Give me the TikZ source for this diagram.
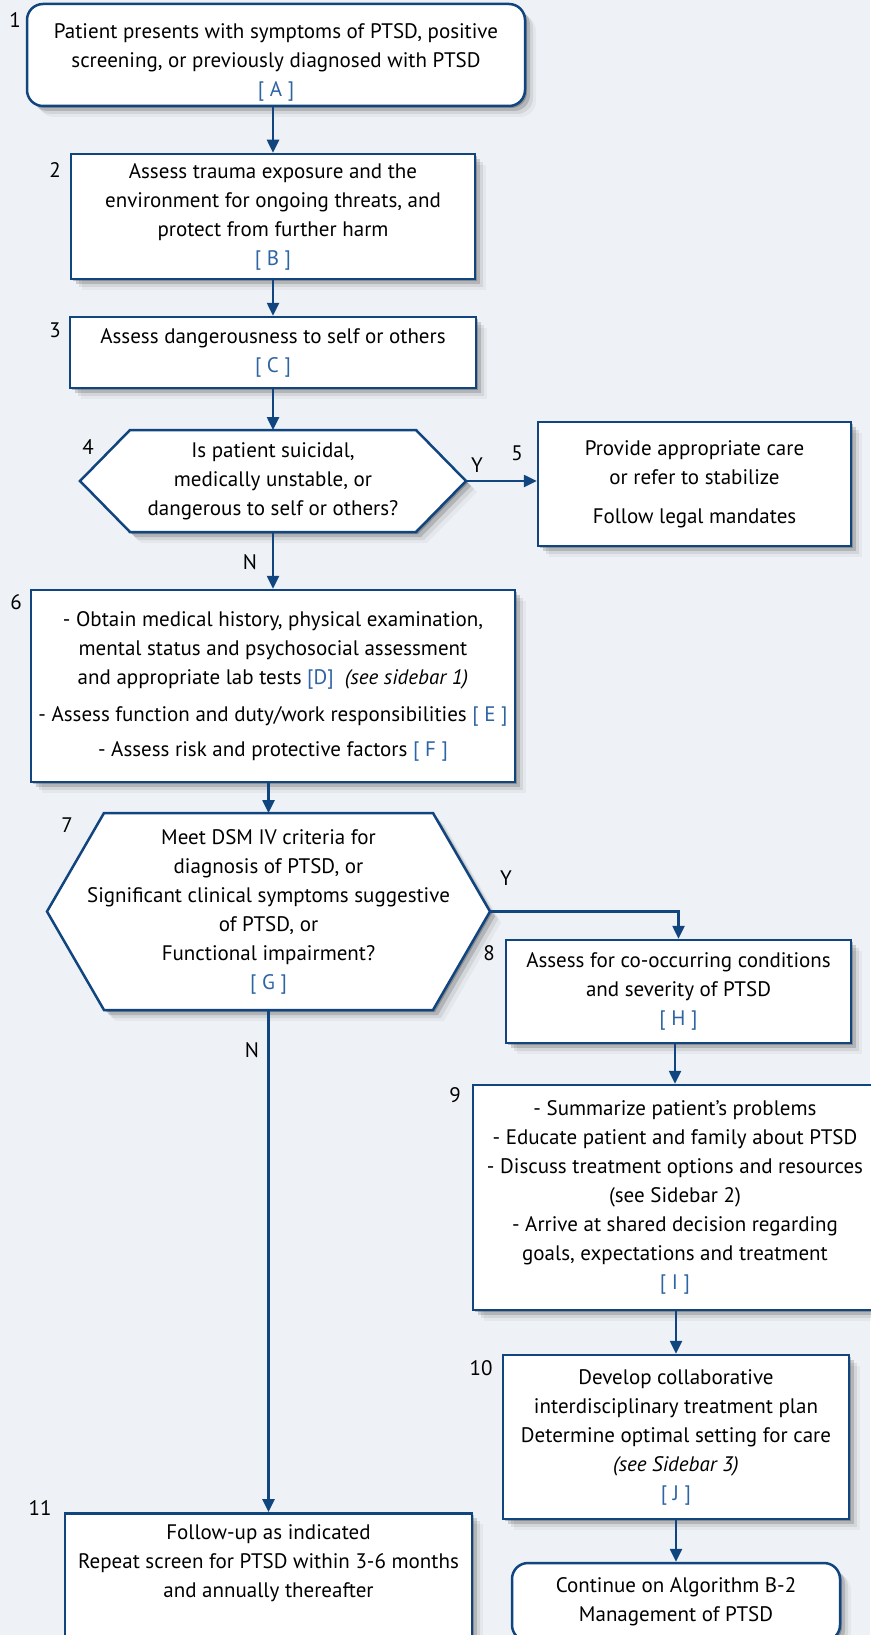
\documentclass[tikz,border=0pt]{standalone}
\usepackage{fontspec}
\setmainfont{PT Sans}
\usetikzlibrary{arrows.meta,shadows,calc}
\pgfdeclarelayer{back}
\pgfdeclarelayer{mid}
\pgfsetlayers{back,mid,main}
\definecolor{bgc}{HTML}{EEF2F6}
\definecolor{navy}{HTML}{11457F}
\definecolor{refblue}{HTML}{2D64A2}
\newcommand{\rfl}[1]{\textcolor{refblue}{[ #1 ]}}
% #1 node, #2 half inner width, #3 half height, #4 inset
\newcommand{\hexpath}[4]{%
  \draw[hexline] ($(#1)+(-#2,-#3)$) -- ($(#1)+(#2,-#3)$) -- ($(#1)+(#2+#4,0)$)
    -- ($(#1)+(#2,#3)$) -- ($(#1)+(-#2,#3)$) -- ($(#1)+(-#2-#4,0)$) -- cycle;}
\begin{document}
\begin{tikzpicture}[x=1pt,y=-1pt,
  every node/.style={font=\fontsize{21}{29}\selectfont, text=black},
  shad/.style={
    drop shadow={shadow xshift=2pt,shadow yshift=-2pt,fill=black,opacity=0.22},
    drop shadow={shadow xshift=5pt,shadow yshift=-5pt,fill=black,opacity=0.15},
    drop shadow={shadow xshift=8pt,shadow yshift=-8pt,fill=black,opacity=0.08},
    drop shadow={shadow xshift=11pt,shadow yshift=-11pt,fill=black,opacity=0.04}},
  box/.style={draw=navy, line width=2.5pt, fill=white, shad, align=center, inner sep=0pt},
  rbox/.style={box, rounded corners=16pt},
  hexin/.style={align=center, inner sep=0pt},
  hexline/.style={draw=navy, line width=2.5pt, fill=white, shad, line join=miter},
  conn/.style={draw=navy, line width=2.5pt, -{Triangle[length=13pt,width=12pt]}},
  num/.style={font=\fontsize{21}{24}\selectfont},
]
\begin{pgfonlayer}{back}
\fill[bgc] (0,0) rectangle (870,1635);
\end{pgfonlayer}
\useasboundingbox (0,0) rectangle (870,1635);

\node[rbox, minimum width=498, minimum height=102] (b1) at (276,55)
  {\rule{0pt}{30pt}Patient presents with symptoms of PTSD, positive\\screening, or previously diagnosed with PTSD\\\rfl{A}};
\node[box, minimum width=404, minimum height=125] (b2) at (273,216.5)
  {Assess trauma exposure and the\\environment for ongoing threats, and\\protect from further harm\\\rfl{B}};
\node[box, minimum width=406, minimum height=71] (b3) at (273,352.5)
  {Assess dangerousness to self or others\\\rfl{C}};
\node[hexin] (h4) at (273,481)
  {Is patient suicidal,\\medically unstable, or\\dangerous to self or others?};
\begin{pgfonlayer}{mid}\hexpath{h4}{143}{51}{50}\end{pgfonlayer}
\coordinate (h4t) at ($(h4)+(0,-51)$);
\coordinate (h4b) at ($(h4)+(0,51)$);
\coordinate (h4r) at ($(h4)+(193,0)$);
\node[box, minimum width=313, minimum height=124] (b5) at (694.5,484)
  {Provide appropriate care\\or refer to stabilize\\[10pt]Follow legal mandates};
\node[box, minimum width=484, minimum height=192] (b6) at (273,686)
  {- Obtain medical history, physical examination,\\mental status and psychosocial assessment\\and appropriate lab tests \textcolor{refblue}{[D]}\ \ \textit{(see sidebar 1)}\\[8pt]- Assess function and duty/work responsibilities \rfl{E}\\[6pt]- Assess risk and protective factors \rfl{F}};
\node[hexin] (h7) at (268.5,911.5)
  {Meet DSM IV criteria for\\diagnosis of PTSD, or\\Significant clinical symptoms suggestive\\of PTSD, or\\Functional impairment?\\\rfl{G}};
\begin{pgfonlayer}{mid}\hexpath{h7}{164.5}{98.5}{57}\end{pgfonlayer}
\coordinate (h7t) at ($(h7)+(0,-98.5)$);
\coordinate (h7b) at ($(h7)+(0,98.5)$);
\coordinate (h7r) at ($(h7)+(221.5,0)$);
\node[box, minimum width=345, minimum height=103] (b8) at (678.5,991.5)
  {Assess for co-occurring conditions\\and severity of PTSD\\\rfl{H}};
\node[box, minimum width=404, minimum height=225] (b9) at (675,1197.5)
  {- Summarize patient’s problems\\- Educate patient and family about PTSD\\- Discuss treatment options and resources\\(see Sidebar 2)\\- Arrive at shared decision regarding\\goals, expectations and treatment\\\rfl{I}};
\node[box, minimum width=346, minimum height=164] (b10) at (676,1437)
  {Develop collaborative\\interdisciplinary treatment plan\\Determine optimal setting for care\\\textit{(see Sidebar 3)}\\\rfl{J}};
\node[box, anchor=north, minimum width=407, inner ysep=11pt, text depth=90pt] (b11) at (268.5,1512)
  {Follow-up as indicated\\Repeat screen for PTSD within 3-6 months\\and annually thereafter};
\node[rbox, minimum width=328, minimum height=78] (fin) at (676,1602)
  {Continue on Algorithm B-2\\Management of PTSD};

% step numbers
\node[num] (n1) at (15,20) {1};
\node[num] (n2) at (55,170) {2};
\node[num] (n3) at (55,330) {3};
\node[num] (n4) at (88,447) {4};
\node[num] (n5) at (517,453) {5};
\node[num] (n6) at (16,602) {6};
\node[num] (n7) at (67,825) {7};
\node[num] (n8) at (489,953) {8};
\node[num] (n9) at (455,1095) {9};
\node[num] (n10) at (481,1368) {10};
\node[num] (n11) at (40,1508) {11};

% connectors
\draw[conn] (b1.south -| b2.north) -- (b2.north);
\draw[conn] (b2.south) -- (b3.north);
\draw[conn] (b3.south) -- (h4t);
\draw[conn] (h4r) -- (h4r -| b5.west);
\draw[conn] (h4b) -- (b6.north);
\draw[conn] (b6.south -| h7t) -- (h7t);
\draw[conn] (h7r) -| (b8.north);
\draw[conn] (h7b) -- (b11.north);
\draw[conn] (b8.south -| b9.north) -- (b9.north);
\draw[conn] (b9.south -| b10.north) -- (b10.north);
\draw[conn] (b10.south -| fin.north) -- (fin.north);

\node (y4) at (477,465) {Y};
\node (nn4) at (250,562) {N};
\node (y7) at (506,878) {Y};
\node (nn7) at (252,1050) {N};
\end{tikzpicture}
\end{document}
